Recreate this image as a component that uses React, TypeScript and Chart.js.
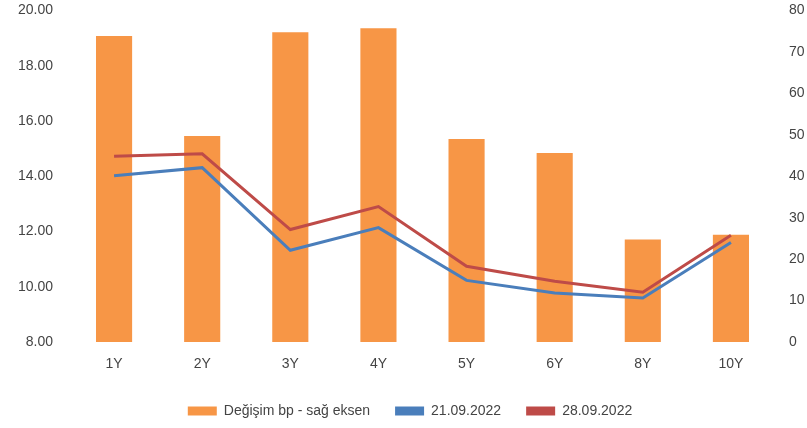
import React, { useEffect, useRef } from "react";
import { Chart, registerables } from "chart.js";

Chart.register(...registerables);

const categories = ["1Y", "2Y", "3Y", "4Y", "5Y", "6Y", "8Y", "10Y"];
const changeBp = [73.8, 49.7, 74.7, 75.7, 49.0, 45.6, 24.7, 25.9];
const yields2109 = [14.02, 14.31, 11.32, 12.14, 10.23, 9.77, 9.59, 11.6];
const yields2809 = [14.72, 14.81, 12.07, 12.9, 10.74, 10.2, 9.8, 11.86];
const leftTicks = [8, 10, 12, 14, 16, 18, 20];
const rightTicks = [0, 10, 20, 30, 40, 50, 60, 70, 80];

const FONT = "'Liberation Sans', Arial, sans-serif";
const TEXT = "#444444";

export default function App() {
  const ref = useRef<HTMLCanvasElement | null>(null);

  useEffect(() => {
    if (!ref.current) return;
    const chart = new Chart(ref.current, {
      data: {
        labels: categories,
        datasets: [
          {
            type: "bar",
            label: "Değişim bp - sağ eksen",
            data: changeBp,
            backgroundColor: "#F79646",
            borderWidth: 0,
            yAxisID: "y1",
            barPercentage: 0.41,
            categoryPercentage: 1,
            order: 2,
          },
          {
            type: "line",
            label: "21.09.2022",
            data: yields2109,
            borderColor: "#4A7EBB",
            backgroundColor: "#4A7EBB",
            borderWidth: 3,
            pointRadius: 0,
            tension: 0,
            yAxisID: "y",
            order: 1,
          },
          {
            type: "line",
            label: "28.09.2022",
            data: yields2809,
            borderColor: "#BE4B48",
            backgroundColor: "#BE4B48",
            borderWidth: 3,
            pointRadius: 0,
            tension: 0,
            yAxisID: "y",
            order: 0,
          },
        ],
      },
      options: {
        responsive: false,
        animation: false,
        layout: { padding: { top: 0, left: 0, right: 20, bottom: 0 } },
        plugins: {
          tooltip: { enabled: false },
          legend: {
            position: "bottom",
            labels: {
              font: { family: FONT, size: 14 },
              color: TEXT,
              padding: 25,
              generateLabels: (c: any) => {
                const ds = c.data.datasets;
                return ds.map((d: any, i: number) => ({
                  text: d.label,
                  fillStyle: d.backgroundColor,
                  strokeStyle: d.backgroundColor,
                  lineWidth: 0,
                  hidden: false,
                  datasetIndex: i,
                  fontColor: TEXT,
                }));
              },
              boxWidth: 29,
              boxHeight: 9,
            },
          },
        },
        scales: {
          x: {
            grid: { display: false, drawTicks: false },
            border: { display: false },
            afterFit: (s: any) => {
              s.height = 37;
            },
            ticks: { font: { family: FONT, size: 14 }, color: TEXT, padding: 14 },
          },
          y: {
            position: "left",
            min: 8,
            max: 20,
            grid: { display: false, drawTicks: false },
            border: { display: false },
            afterBuildTicks: (s: any) => {
              s.ticks = leftTicks.map((v) => ({ value: v }));
            },
            afterFit: (s: any) => {
              s.width = 70;
            },
            ticks: {
              font: { family: FONT, size: 14 },
              color: TEXT,
              padding: 17,
              callback: (v: any) => Number(v).toFixed(2),
            },
          },
          y1: {
            position: "right",
            min: 0,
            max: 80,
            grid: { display: false, drawTicks: false },
            border: { display: false },
            afterBuildTicks: (s: any) => {
              s.ticks = rightTicks.map((v) => ({ value: v }));
            },
            afterFit: (s: any) => {
              s.width = 45;
            },
            ticks: {
              font: { family: FONT, size: 14 },
              color: TEXT,
              padding: 14,
            },
          },
        },
      },
    } as any);
    return () => chart.destroy();
  }, []);

  return (
    <div
      style={{
        position: "absolute",
        left: 0,
        top: 0,
        width: 807,
        height: 428,
        overflow: "hidden",
        background: "#fff",
      }}
    >
      <canvas
        ref={ref}
        width={840}
        height={443}
        style={{ position: "absolute", left: 0, top: -15, width: 840, height: 443 }}
      />
    </div>
  );
}
